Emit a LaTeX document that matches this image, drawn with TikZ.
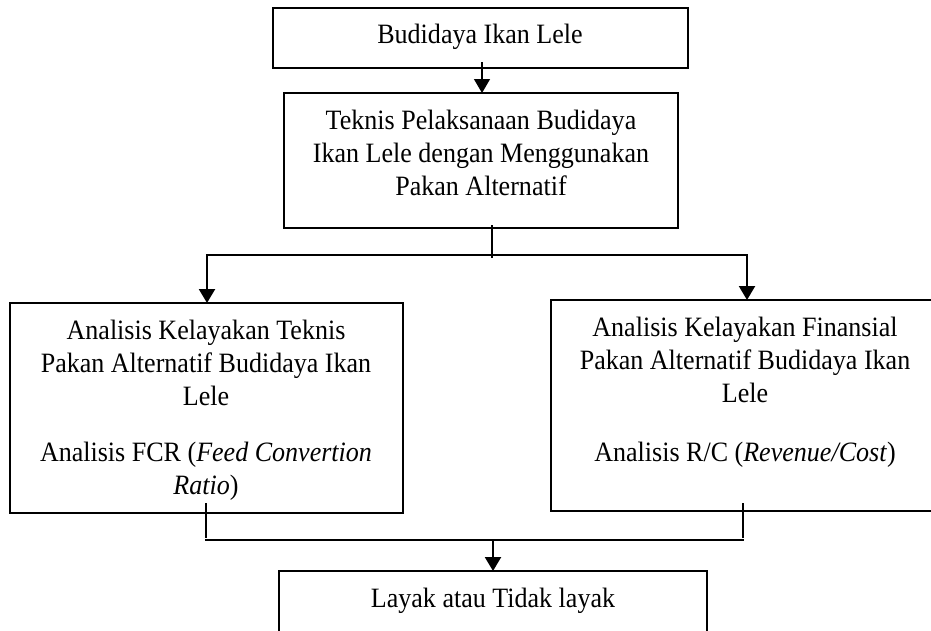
\documentclass[tikz,border=0pt]{standalone}
\usepackage{fontspec}
\setmainfont{Liberation Serif}[FakeStretch=0.93]
\usetikzlibrary{arrows.meta}
\begin{document}
\begin{tikzpicture}[x=1pt,y=-1pt,
  box/.style={draw,line width=2.2pt,rectangle,inner sep=0pt,outer sep=0pt},
  txt/.style={inner sep=0pt,outer sep=0pt,align=center,anchor=north,
    font=\fontsize{28pt}{33pt}\selectfont},
  conn/.style={line width=2.2pt},
  arr/.style={line width=2.2pt,-{Triangle[length=14pt,width=16pt]}},
  thinarr/.style={line width=1.4pt,-{Triangle[length=14pt,width=16pt]}}]
\useasboundingbox (0,0) rectangle (931,630);
\clip (0,0) rectangle (931,630);
% boxes
\node[box,minimum width=415pt,minimum height=60pt] (b1) at (480.5,38) {};
\node[box,minimum width=394pt,minimum height=135pt] (b2) at (481,160.5) {};
\node[box,minimum width=393pt,minimum height=210pt] (b4) at (206.5,408) {};
\node[box,minimum width=393pt,minimum height=211pt] (b5) at (747.5,405.5) {};
\node[box,minimum width=428pt,minimum height=80pt] (b3) at (493,611) {};
% texts
\node[txt] (t1) at (480,23) {\rule{0pt}{20pt}Budidaya Ikan Lele};
\node[txt] (t2) at (481,109) {\rule{0pt}{20pt}Teknis Pelaksanaan Budidaya\\Ikan Lele dengan Menggunakan\\Pakan Alternatif};
\node[txt] (t4) at (206,319) {\rule{0pt}{20pt}Analisis Kelayakan Teknis\\Pakan Alternatif Budidaya Ikan\\Lele\\[23pt]Analisis FCR (\textit{Feed Convertion}\\\textit{Ratio})};
\node[txt] (t5) at (745,316) {\rule{0pt}{20pt}Analisis Kelayakan Finansial\\Pakan Alternatif Budidaya Ikan\\Lele\\[26pt]Analisis R/C (\textit{Revenue/Cost})};
\node[txt] (t3) at (493,587) {\rule{0pt}{20pt}Layak atau Tidak layak};
% connectors
\coordinate (a1) at (482,62);
\draw[thinarr] (a1) -- (a1 |- b2.north);
\coordinate (s2) at (492,225);
\coordinate (e2) at (492,258);
\draw[conn] (s2) -- (e2);
\coordinate (jl) at (207,255);
\coordinate (jr) at (747,255);
\draw[conn] ([xshift=-1.1pt]jl) -- ([xshift=1.1pt]jr);
\draw[arr] (jl) -- (jl |- b4.north);
\draw[arr] (jr) -- (jr |- b5.north);
\coordinate (ul) at (206,503);
\coordinate (ur) at (743,503);
\coordinate (kl) at (206,540);
\coordinate (kr) at (743,540);
\draw[conn] (ul) -- ([yshift=2pt]kl);
\draw[conn] (ur) -- ([yshift=2pt]kr);
\draw[conn] ([xshift=-1.1pt]kl) -- ([xshift=1.1pt]kr);
\coordinate (m3) at (493,540);
\draw[arr] (m3) -- (m3 |- b3.north);
\end{tikzpicture}
\end{document}
